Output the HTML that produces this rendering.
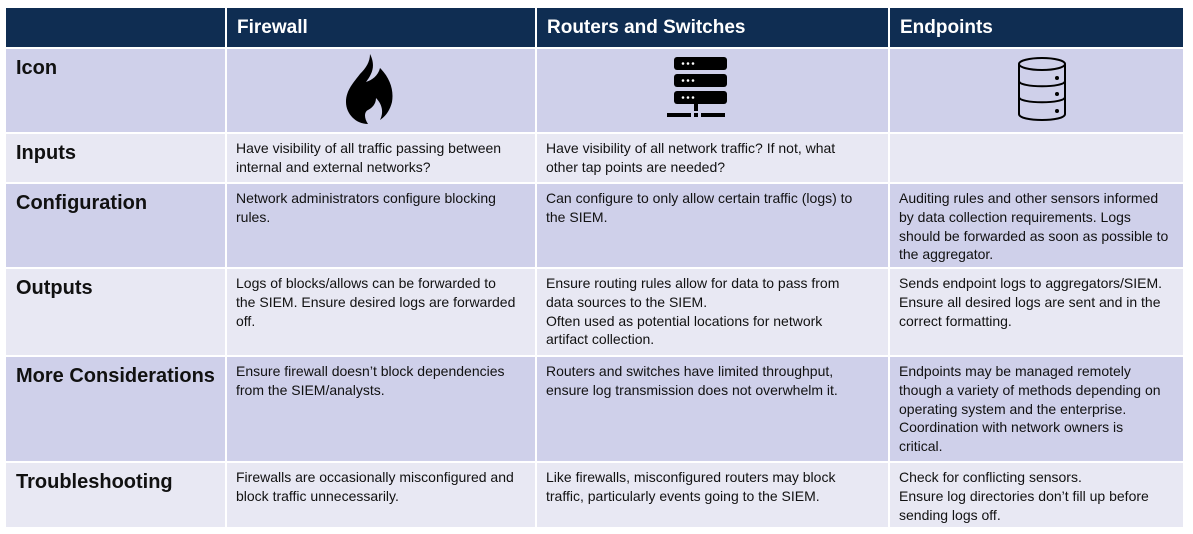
<!DOCTYPE html>
<html><head><style>
body{margin:0;width:1193px;height:534px;background:#fff;position:relative;overflow:hidden;font-family:"Liberation Sans",Calibri,sans-serif;}
.c{position:absolute;box-sizing:border-box;}
.h{background:#0f2d52;color:#fff;font-weight:bold;font-size:19px;padding:9px 0 0 10px;}
.d{background:#cfd0ea;}
.l{background:#e8e8f3;}
.lab{font-weight:bold;font-size:20px;color:#111;padding:8px 0 0 10px;white-space:nowrap;}
.t{font-size:14px;line-height:18.8px;color:#111;padding:5px 0 0 9px;white-space:nowrap;}
</style></head><body>
<div class="c h" style="left:6px;top:8px;width:219px;height:39px"></div>
<div class="c h" style="left:227px;top:8px;width:308px;height:39px">Firewall</div>
<div class="c h" style="left:537px;top:8px;width:351px;height:39px">Routers and Switches</div>
<div class="c h" style="left:890px;top:8px;width:293px;height:39px">Endpoints</div>
<div class="c d lab" style="left:6px;top:49px;width:219px;height:83px">Icon</div>
<div class="c d" style="left:227px;top:49px;width:308px;height:83px">
<svg style="position:absolute;left:115px;top:5px" width="54" height="70" viewBox="0 0 54 70"><path d="M28 0 C34 12 30 20 24 28 C30 26 36 22 38 14 C48 24 52 36 50 48 C48 56 44 62 38 66 C42 58 40 50 34 44 C34 50 30 54 26 56 C22 58 22 64 26 70 C14 70 4 60 4 48 C4 36 12 28 18 20 C24 14 28 8 28 0 Z" fill="#000"/></svg>
</div>
<div class="c d" style="left:537px;top:49px;width:351px;height:83px">
<svg style="position:absolute;left:130px;top:8px" width="65" height="64" viewBox="0 0 65 64">
<rect x="7" y="0" width="53" height="13" rx="3"/><rect x="7" y="17" width="53" height="13" rx="3"/><rect x="7" y="34" width="53" height="13" rx="3"/>
<g fill="#fff"><circle cx="16" cy="6.5" r="1.3"/><circle cx="21" cy="6.5" r="1.3"/><circle cx="26" cy="6.5" r="1.3"/><circle cx="16" cy="23.5" r="1.3"/><circle cx="21" cy="23.5" r="1.3"/><circle cx="26" cy="23.5" r="1.3"/><circle cx="16" cy="40.5" r="1.3"/><circle cx="21" cy="40.5" r="1.3"/><circle cx="26" cy="40.5" r="1.3"/></g>
<rect x="27" y="47" width="4" height="7"/><rect x="0" y="56" width="24" height="4"/><rect x="27" y="56" width="4" height="4"/><rect x="34" y="56" width="24" height="4"/>
</svg></div>
<div class="c d" style="left:890px;top:49px;width:293px;height:83px">
<svg style="position:absolute;left:126px;top:7px" width="52" height="68" viewBox="0 0 52 68" fill="none" stroke="#000" stroke-width="2">
<ellipse cx="26" cy="8" rx="23" ry="6"/><path d="M3 8 V58 C3 66 49 66 49 58 V8"/><path d="M3 25 C3 32 49 32 49 25"/><path d="M3 41 C3 48 49 48 49 41"/>
<g fill="#000" stroke="none"><circle cx="41" cy="22" r="2"/><circle cx="41" cy="38" r="2"/><circle cx="41" cy="55" r="2"/></g></svg>
</div>
<div class="c l lab" style="left:6px;top:134px;width:219px;height:48px">Inputs</div>
<div class="c l t" style="left:227px;top:134px;width:308px;height:48px">Have visibility of all traffic passing between<br>internal and external networks?</div>
<div class="c l t" style="left:537px;top:134px;width:351px;height:48px">Have visibility of all network traffic? If not, what<br>other tap points are needed?</div>
<div class="c l t" style="left:890px;top:134px;width:293px;height:48px"></div>
<div class="c d lab" style="left:6px;top:184px;width:219px;height:83px">Configuration</div>
<div class="c d t" style="left:227px;top:184px;width:308px;height:83px">Network administrators configure blocking<br>rules.</div>
<div class="c d t" style="left:537px;top:184px;width:351px;height:83px">Can configure to only allow certain traffic (logs) to<br>the SIEM.</div>
<div class="c d t" style="left:890px;top:184px;width:293px;height:83px">Auditing rules and other sensors informed<br>by data collection requirements. Logs<br>should be forwarded as soon as possible to<br>the aggregator.</div>
<div class="c l lab" style="left:6px;top:269px;width:219px;height:86px">Outputs</div>
<div class="c l t" style="left:227px;top:269px;width:308px;height:86px">Logs of blocks/allows can be forwarded to<br>the SIEM. Ensure desired logs are forwarded<br>off.</div>
<div class="c l t" style="left:537px;top:269px;width:351px;height:86px">Ensure routing rules allow for data to pass from<br>data sources to the SIEM.<br>Often used as potential locations for network<br>artifact collection.</div>
<div class="c l t" style="left:890px;top:269px;width:293px;height:86px">Sends endpoint logs to aggregators/SIEM.<br>Ensure all desired logs are sent and in the<br>correct formatting.</div>
<div class="c d lab" style="left:6px;top:357px;width:219px;height:104px">More Considerations</div>
<div class="c d t" style="left:227px;top:357px;width:308px;height:104px">Ensure firewall doesn’t block dependencies<br>from the SIEM/analysts.</div>
<div class="c d t" style="left:537px;top:357px;width:351px;height:104px">Routers and switches have limited throughput,<br>ensure log transmission does not overwhelm it.</div>
<div class="c d t" style="left:890px;top:357px;width:293px;height:104px">Endpoints may be managed remotely<br>though a variety of methods depending on<br>operating system and the enterprise.<br>Coordination with network owners is<br>critical.</div>
<div class="c l lab" style="left:6px;top:463px;width:219px;height:64px">Troubleshooting</div>
<div class="c l t" style="left:227px;top:463px;width:308px;height:64px">Firewalls are occasionally misconfigured and<br>block traffic unnecessarily.</div>
<div class="c l t" style="left:537px;top:463px;width:351px;height:64px">Like firewalls, misconfigured routers may block<br>traffic, particularly events going to the SIEM.</div>
<div class="c l t" style="left:890px;top:463px;width:293px;height:64px">Check for conflicting sensors.<br>Ensure log directories don’t fill up before<br>sending logs off.</div>
</body></html>
